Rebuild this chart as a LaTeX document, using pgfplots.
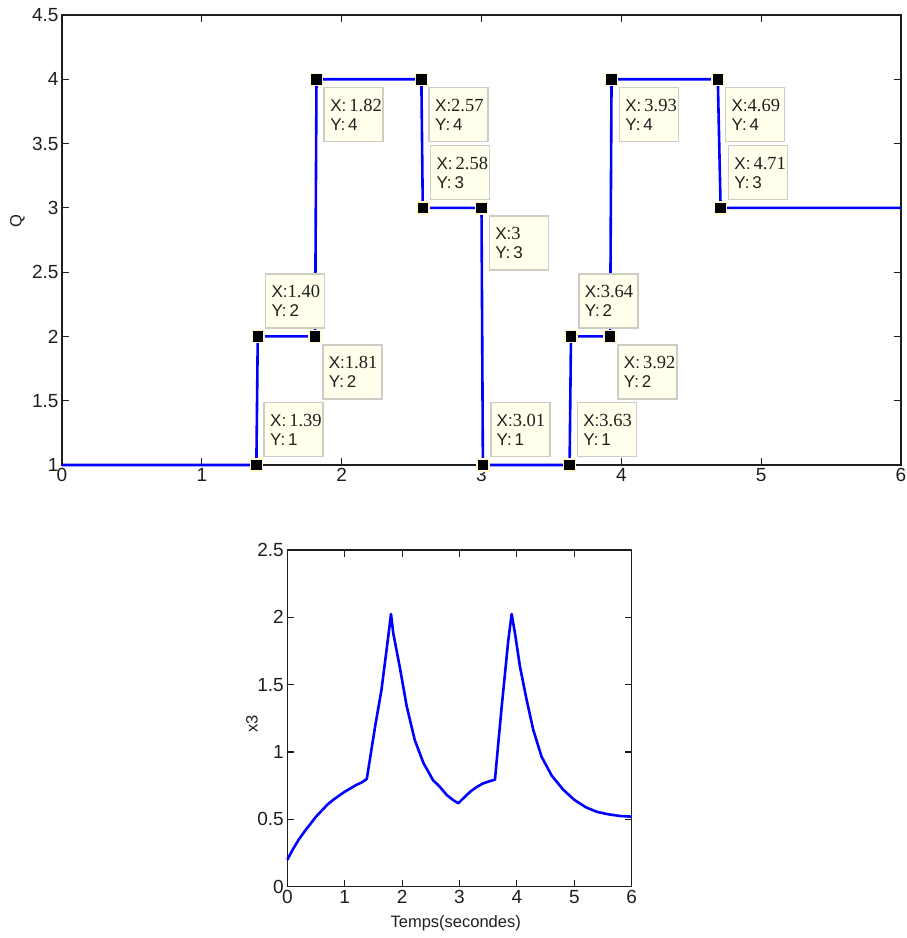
\documentclass[border=0pt]{standalone}
\usepackage{fontspec}
\setmainfont{Liberation Sans}
\newfontfamily\serifnum{Liberation Serif}
\newfontfamily\tipsans{Liberation Sans}
\usepackage{pgfplots}
\pgfplotsset{compat=1.18}
\definecolor{tipfill}{RGB}{255,255,236}
\definecolor{tipdraw}{RGB}{205,205,198}
\definecolor{halo}{RGB}{255,248,210}
\definecolor{axgray}{RGB}{30,30,30}
\definecolor{mblue}{RGB}{0,0,255}

\pgfplotsset{mlab/.style={
  scale only axis,
  axis line style={axgray, line width=1.3pt},
  tick style={axgray, line width=1.1pt},
  tick align=inside, major tick length=7pt,
  tick label style={font=\fontsize{19}{21}\selectfont, text=axgray},
  /pgf/number format/assume math mode=true,
  label style={font=\fontsize{16.5}{18}\selectfont, text=axgray},
  clip=false,
}}
\tikzset{tip/.style={draw=tipdraw, line width=1.6pt, fill=tipfill, text width=47pt,
  inner xsep=6pt, inner ysep=0pt, minimum height=54pt, align=left,
  font=\fontsize{17}{19}\selectfont, text=black!88}}

\newcommand{\tipbelow}[4]{\node[tip, anchor=north west, xshift=7pt, yshift=-7.5pt] at (axis cs:#1,#2) {{\tipsans X:}{\serifnum\fontsize{18.5}{19}\selectfont #3}\\{\tipsans Y:\,#4}};}
\newcommand{\tipabove}[4]{\node[tip, anchor=south west, xshift=7pt, yshift=7.5pt] at (axis cs:#1,#2) {{\tipsans X:}{\serifnum\fontsize{18.5}{19}\selectfont #3}\\{\tipsans Y:\,#4}};}

\begin{document}
\begin{tikzpicture}[x=1pt,y=1pt]
\useasboundingbox (0,0) rectangle (907,938);

% ---------------- Top axis ----------------
\begin{axis}[mlab,
  at={(62pt,473pt)}, anchor=south west,
  width=839pt, height=450pt,
  xmin=0, xmax=6, ymin=1, ymax=4.5,
  xtick={0,1,2,3,4,5,6},
  ytick={1,1.5,2,2.5,3,3.5,4,4.5},
  ylabel={Q},
  ylabel style={at={(rel axis cs:-0.053,0.541)}, anchor=center},
]
\addplot[mblue, line width=2.6pt] coordinates {
  (0,1) (1.39,1) (1.40,2) (1.81,2) (1.82,4) (2.57,4) (2.58,3) (3,3)
  (3.01,1) (3.63,1) (3.64,2) (3.92,2) (3.93,4) (4.69,4) (4.71,3) (6,3)
};
\addplot[only marks, mark=square*, mark size=6pt,
  mark options={fill=black, draw=halo, line width=1.5pt}] coordinates {
  (1.39,1) (1.40,2) (1.81,2) (1.82,4) (2.57,4) (2.58,3) (3,3)
  (3.01,1) (3.63,1) (3.64,2) (3.92,2) (3.93,4) (4.69,4) (4.71,3)
};
\tipbelow{1.82}{4}{\,1.82}{4}
\tipbelow{2.57}{4}{2.57}{4}
\tipabove{2.58}{3}{\,2.58}{3}
\tipbelow{3}{3}{3}{3}
\tipabove{1.40}{2}{1.40}{2}
\tipbelow{1.81}{2}{1.81}{2}
\tipabove{1.39}{1}{\,1.39}{1}
\tipabove{3.01}{1}{3.01}{1}
\tipabove{3.63}{1}{3.63}{1}
\tipabove{3.64}{2}{3.64}{2}
\tipbelow{3.92}{2}{\,3.92}{2}
\tipbelow{3.93}{4}{\,3.93}{4}
\tipbelow{4.69}{4}{4.69}{4}
\tipabove{4.71}{3}{\,4.71}{3}
\end{axis}

% ---------------- Bottom axis ----------------
\begin{axis}[mlab,
  at={(287.3pt,51.3pt)}, anchor=south west,
  width=344.4pt, height=336.7pt,
  xmin=0, xmax=6, ymin=0, ymax=2.5,
  xtick={0,1,2,3,4,5,6},
  ytick={0,0.5,1,1.5,2,2.5},
  ylabel={x3},
  ylabel style={at={(rel axis cs:-0.1025,0.483)}, anchor=center},
  xlabel={Temps(secondes)},
  xlabel style={at={(rel axis cs:0.489,-0.108)}, anchor=center},
]
\addplot[mblue, line width=2.6pt, line join=round] coordinates {
  (0,0.20) (0.1,0.28) (0.2,0.35) (0.3,0.41) (0.4,0.465) (0.5,0.52)
  (0.6,0.565) (0.7,0.61) (0.8,0.645) (0.9,0.675) (1.0,0.705) (1.1,0.73)
  (1.2,0.755) (1.3,0.775) (1.385,0.80) (1.53,1.19) (1.64,1.46) (1.73,1.76)
  (1.807,2.025) (1.847,1.88) (1.96,1.63) (2.08,1.34) (2.22,1.09)
  (2.37,0.92) (2.54,0.79) (2.65,0.745) (2.78,0.68) (2.9,0.64) (2.98,0.62)
  (3.1,0.67) (3.2,0.71) (3.3,0.74) (3.4,0.765) (3.5,0.78) (3.618,0.795)
  (3.676,1.065) (3.735,1.336) (3.793,1.584) (3.85,1.83) (3.909,2.025)
  (3.967,1.88) (4.054,1.633) (4.17,1.386) (4.286,1.163) (4.43,0.965)
  (4.606,0.825) (4.808,0.72) (5.0,0.645) (5.2,0.59) (5.4,0.555)
  (5.6,0.537) (5.8,0.525) (6.0,0.52)
};
\end{axis}
\end{tikzpicture}
\end{document}
